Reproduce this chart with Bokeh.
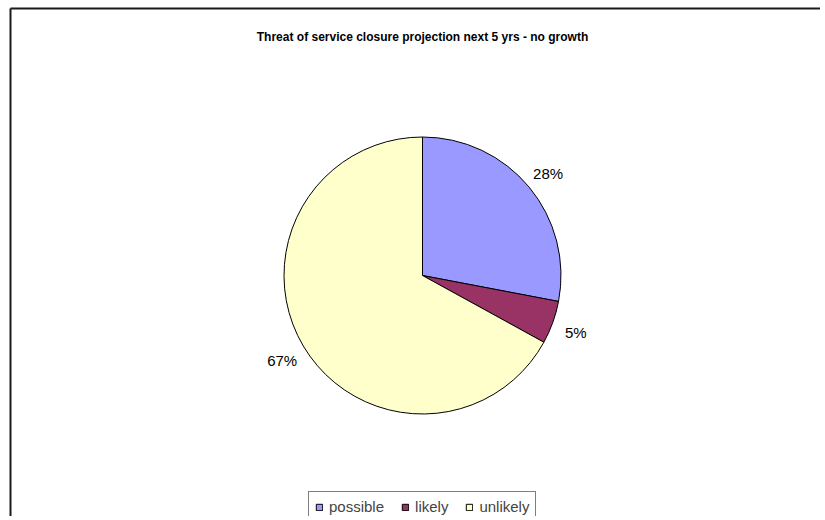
import numpy as np
from bokeh.plotting import figure
from bokeh.models import Range1d, ColumnDataSource, Legend, LegendItem
from bokeh.core.properties import value
from bokeh.embed import file_html
from bokeh.resources import INLINE

# ---- data ----
title_text = "Threat of service closure projection next 5 yrs - no growth"
categories = ["possible", "likely", "unlikely"]
percents = [28, 5, 67]
colors = ["#9999FF", "#993366", "#FFFFCC"]

W, H = 820, 516
p = figure(width=W, height=H, output_backend="svg", toolbar_location=None,
           x_range=Range1d(0, W), y_range=Range1d(520 - H, 520),
           min_border=0, outline_line_color=None)
p.axis.visible = False
p.grid.visible = False
p.background_fill_color = "white"
p.border_fill_color = "white"

# coordinates: x = page px, y = 520 - page px
cx, cy, r = 422, 520 - 275, 138.5
vals = np.array(percents, dtype=float)
frac = vals / vals.sum()
cum = np.concatenate([[0], np.cumsum(frac)])
start = np.pi / 2 - 2 * np.pi * cum[:-1]
end = np.pi / 2 - 2 * np.pi * cum[1:]
mid = (start + end) / 2

src = ColumnDataSource(dict(cat=categories, start=start, end=end, color=colors))
wr = p.wedge(x=cx, y=cy, radius=r, start_angle="start", end_angle="end",
             direction="clock", fill_color="color", line_color="black",
             line_width=1, source=src)

lr = 163
lab = ColumnDataSource(dict(x=cx + lr * np.cos(mid), y=cy + lr * np.sin(mid) - 2,
                            t=[f"{v}%" for v in percents]))
p.text(x="x", y="y", text="t", source=lab, text_align="center",
       text_baseline="middle", text_font=value("Liberation Sans"),
       text_font_size="15px", text_color="#000000")

# title
p.text(x=[422], y=[520 - 36], text=[title_text], text_align="center",
       text_baseline="middle", text_font=value("Liberation Sans"),
       text_font_size="12px", text_font_style="bold", text_color="#000000")

# chart border (left and top edges visible)
p.segment(x0=[10, 10], y0=[0, 512], x1=[10, 900], y1=[512, 512],
          line_color="#1a1a1a", line_width=2)

legend = Legend(items=[LegendItem(label=c, renderers=[wr], index=i)
                       for i, c in enumerate(categories)],
                orientation="horizontal", location=(308, -6), margin=0,
                padding=6, spacing=17, label_standoff=6,
                glyph_width=8, glyph_height=8, label_height=17,
                label_text_font="Liberation Sans", label_text_font_size="15px",
                border_line_color="black", border_line_width=1,
                background_fill_color="white", background_fill_alpha=1)
p.add_layout(legend, "center")

open("out.html", "w").write(file_html(p, INLINE))
